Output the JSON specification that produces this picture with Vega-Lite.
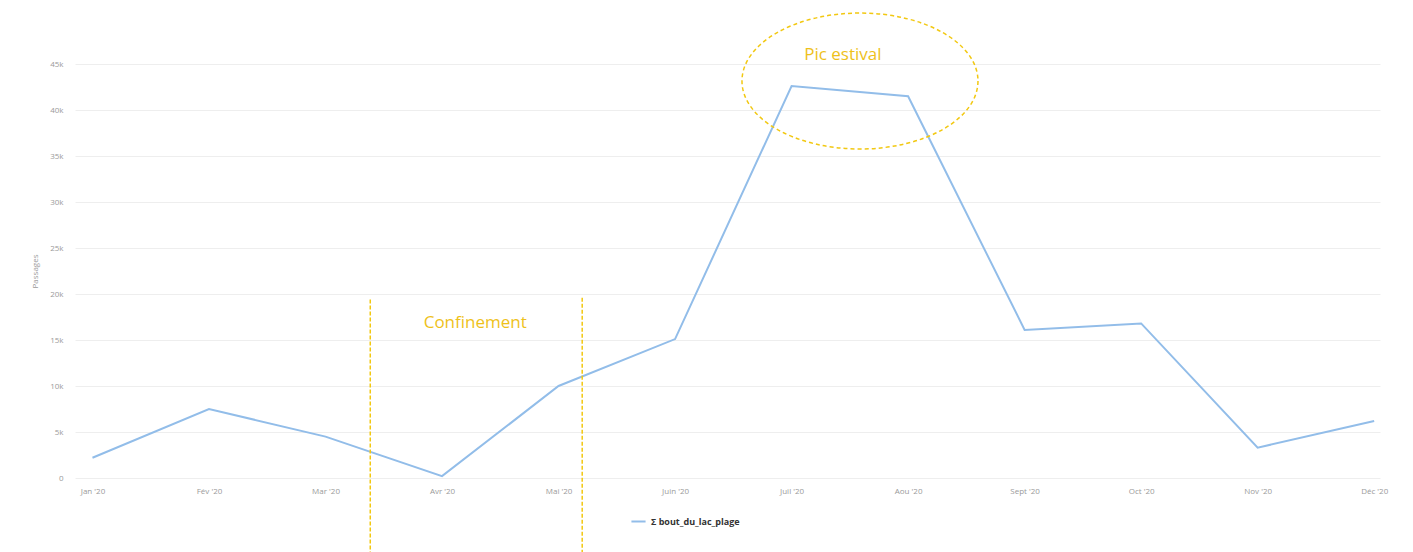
{
  "$schema": "https://vega.github.io/schema/vega-lite/v6.json",
  "width": 1305,
  "height": 414,
  "autosize": {"type": "none"},
  "padding": {"left": 75, "top": 64, "right": 33, "bottom": 74},
  "background": "white",
  "config": {"view": {"stroke": null}, "font": "Open Sans"},
  "datasets": {
    "serie": [
      {"m": 0, "v": 2200, "serie": "Σ bout_du_lac_plage"},
      {"m": 1, "v": 7500, "serie": "Σ bout_du_lac_plage"},
      {"m": 2, "v": 4500, "serie": "Σ bout_du_lac_plage"},
      {"m": 3, "v": 200, "serie": "Σ bout_du_lac_plage"},
      {"m": 4, "v": 10000, "serie": "Σ bout_du_lac_plage"},
      {"m": 5, "v": 15100, "serie": "Σ bout_du_lac_plage"},
      {"m": 6, "v": 42600, "serie": "Σ bout_du_lac_plage"},
      {"m": 7, "v": 41500, "serie": "Σ bout_du_lac_plage"},
      {"m": 8, "v": 16100, "serie": "Σ bout_du_lac_plage"},
      {"m": 9, "v": 16800, "serie": "Σ bout_du_lac_plage"},
      {"m": 10, "v": 3300, "serie": "Σ bout_du_lac_plage"},
      {"m": 11, "v": 6200, "serie": "Σ bout_du_lac_plage"}
    ],
    "regles": [
      {"m": 2.384, "v": 19400, "v2": -8500},
      {"m": 4.203, "v": 19600, "v2": -8500}
    ],
    "textes": [
      {"m": 3.285, "v": 16850, "t": "Confinement"},
      {"m": 6.44, "v": 45980, "t": "Pic estival"}
    ],
    "ellipse": [
      {"m": 6.587, "v": 43150}
    ]
  },
  "layer": [
    {
      "data": {"name": "serie"},
      "mark": {"type": "line", "strokeWidth": 2, "interpolate": "linear"},
      "encoding": {
        "x": {
          "field": "m", "type": "quantitative",
          "scale": {"domain": [-0.15, 11.05], "nice": false, "zero": false},
          "axis": {
            "title": null, "values": [0,1,2,3,4,5,6,7,8,9,10,11],
            "labelExpr": "[\"Jan '20\",\"Fév '20\",\"Mar '20\",\"Avr '20\",\"Mai '20\",\"Juin '20\",\"Juil '20\",\"Aou '20\",\"Sept '20\",\"Oct '20\",\"Nov '20\",\"Déc '20\"][datum.value]",
            "grid": false, "ticks": false, "domain": false,
            "labelFontSize": 8, "labelColor": "#9a9a9a", "labelPadding": 9
          }
        },
        "y": {
          "field": "v", "type": "quantitative",
          "scale": {"domain": [0, 45000], "nice": false},
          "axis": {
            "title": "Passages", "titleFontSize": 8, "titleFontWeight": "normal", "titleColor": "#9a9a9a", "titlePadding": 10,
            "values": [0,5000,10000,15000,20000,25000,30000,35000,40000,45000],
            "labelExpr": "datum.value == 0 ? '0' : format(datum.value, '~s')",
            "grid": true, "gridColor": "#eeeeee", "ticks": false, "domain": false,
            "labelFontSize": 8, "labelColor": "#9a9a9a", "labelPadding": 12
          }
        },
        "color": {
          "field": "serie", "type": "nominal",
          "scale": {"range": ["#92BDE9"]},
          "legend": {
            "title": null, "orient": "none", "legendX": 555, "legendY": 449,
            "symbolType": "stroke", "symbolSize": 200, "symbolStrokeWidth": 2,
            "labelFontSize": 9, "labelFontWeight": "bold", "labelColor": "#333333"
          }
        }
      }
    },
    {
      "data": {"name": "regles"},
      "mark": {"type": "rule", "stroke": "#F2C811", "strokeWidth": 1.5, "strokeDash": [4, 2]},
      "encoding": {
        "x": {"field": "m", "type": "quantitative"},
        "y": {"field": "v", "type": "quantitative"},
        "y2": {"field": "v2"}
      }
    },
    {
      "data": {"name": "textes"},
      "mark": {"type": "text", "color": "#EEC11A", "fontSize": 17, "font": "Open Sans", "align": "center", "baseline": "middle"},
      "encoding": {
        "x": {"field": "m", "type": "quantitative"},
        "y": {"field": "v", "type": "quantitative"},
        "text": {"field": "t"}
      }
    },
    {
      "data": {"name": "ellipse"},
      "mark": {
        "type": "point", "filled": false, "fill": null, "opacity": 1,
        "stroke": "#F2C811", "strokeWidth": 1.5, "strokeDash": [4, 3],
        "size": 55696,
        "shape": "M 1 0 C 1 0.318 0.552 0.576 0 0.576 C -0.552 0.576 -1 0.318 -1 0 C -1 -0.318 -0.552 -0.576 0 -0.576 C 0.552 -0.576 1 -0.318 1 0 Z"
      },
      "encoding": {
        "x": {"field": "m", "type": "quantitative"},
        "y": {"field": "v", "type": "quantitative"}
      }
    }
  ]
}
